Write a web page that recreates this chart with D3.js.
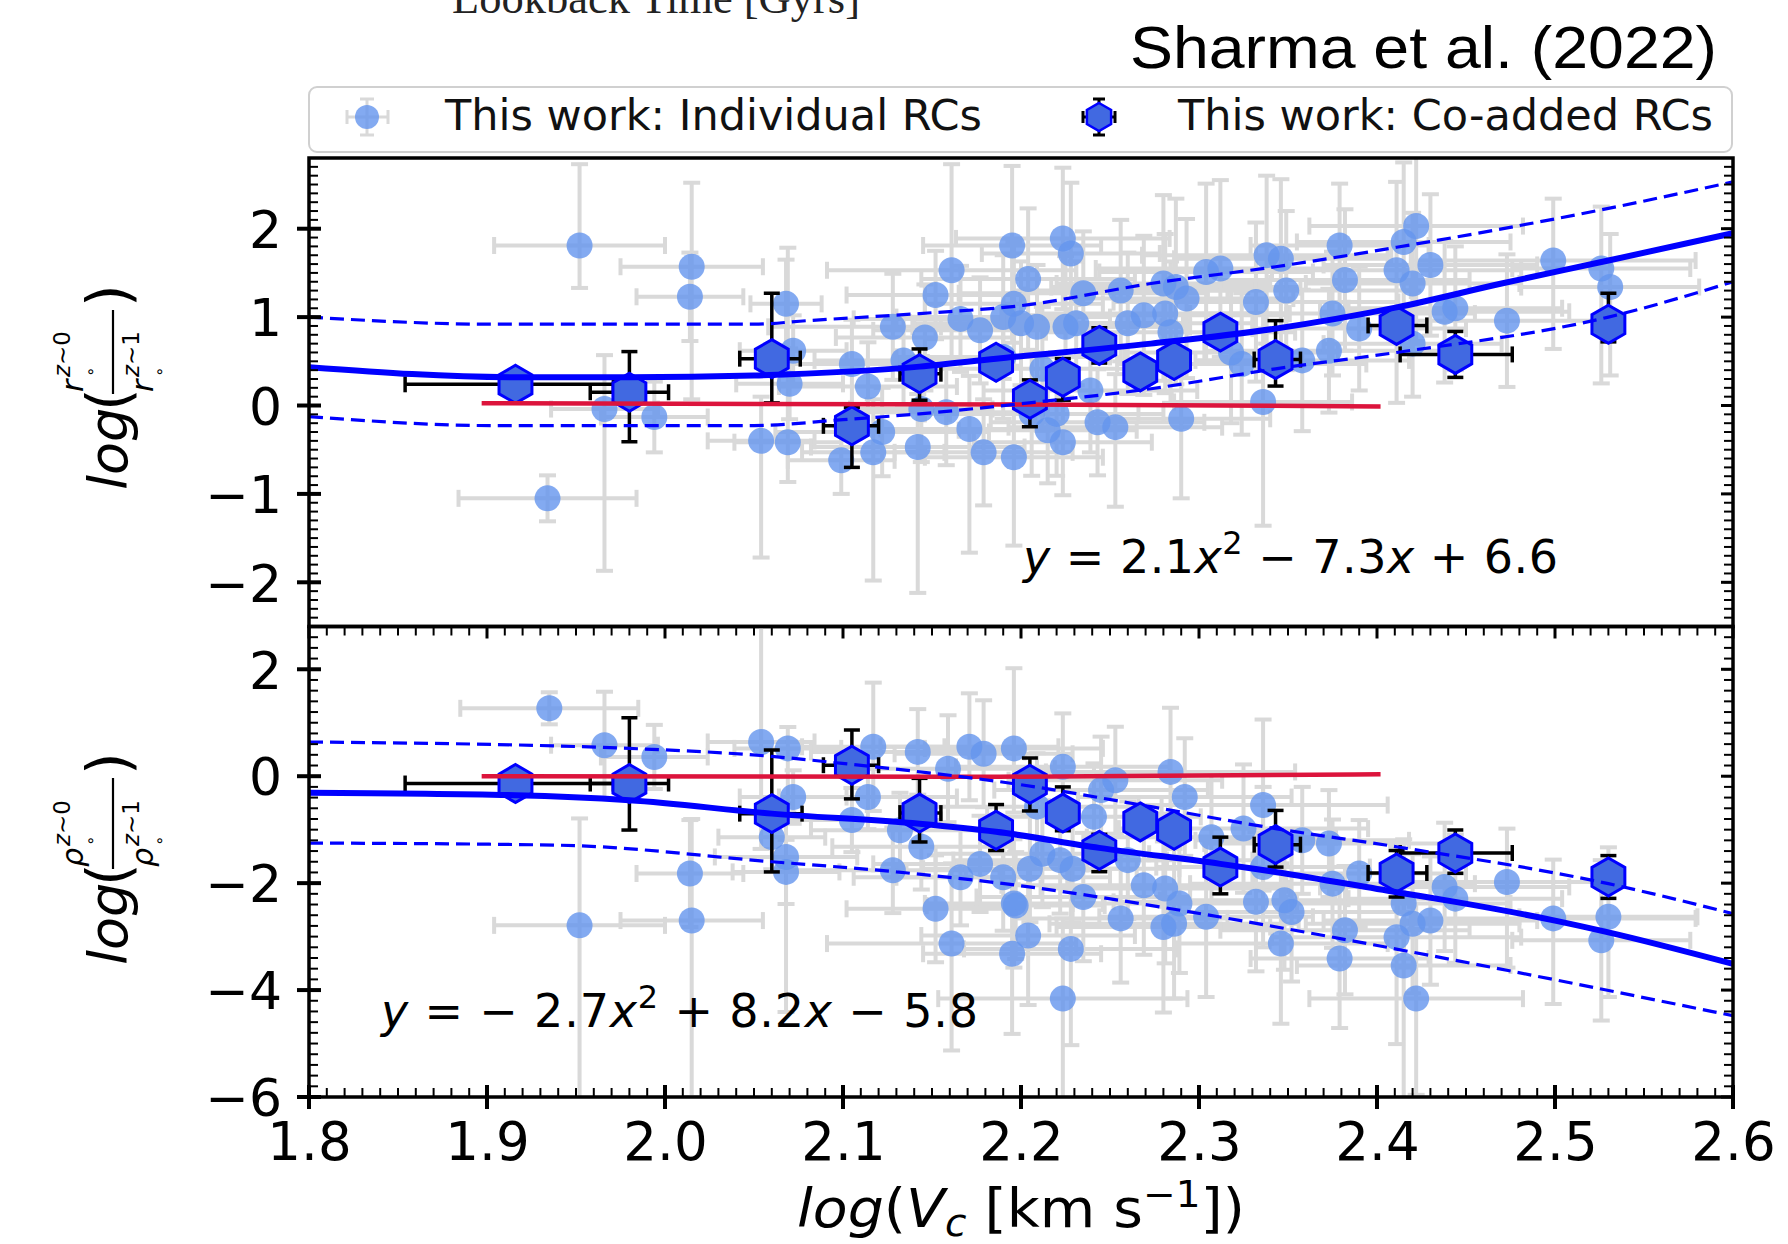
<!DOCTYPE html>
<html>
<head>
<meta charset="utf-8">
<script src="https://cdn.jsdelivr.net/npm/d3@7"></script>
<style>
  body { margin: 0; background: #fff; }
  svg { display: block; }
</style>
</head>
<body>
<svg id="chart" width="1788" height="1244"></svg>
<script>
// ---- data ----
var xTickValues = [1.8, 1.9, 2.0, 2.1, 2.2, 2.3, 2.4, 2.5, 2.6];
var topTickValues = [-2, -1, 0, 1, 2];
var bottomTickValues = [-6, -4, -2, 0, 2];

// individual RCs: [logVc, value, xErr, yErrLow, yErrHigh]
var individualTop = [
  [1.952, 1.81, 0.048, 0.48, 0.92], [1.934, -1.05, 0.05, 0.26, 0.26], [2.015, 1.57, 0.04, 1.5, 0.95],
  [2.014, 1.23, 0.03, 0.5, 0.5], [1.966, -0.04, 0.03, 1.83, 0.61], [1.994, -0.13, 0.03, 0.4, 0.4],
  [2.054, -0.40, 0.03, 1.32, 0.5], [2.069, -0.415, 0.03, 0.45, 2.2], [2.068, 1.15, 0.02, 0.5, 0.5],
  [2.072, 0.62, 0.03, 0.4, 0.4], [2.070, 0.245, 0.03, 0.4, 0.4], [2.105, 0.47, 0.05, 0.5, 0.5],
  [2.114, 0.215, 0.05, 0.5, 0.5], [2.099, -0.62, 0.03, 0.38, 0.38], [2.117, -0.53, 0.04, 1.45, 0.6],
  [2.122, -0.30, 0.06, 0.5, 0.5], [2.128, 0.89, 0.07, 0.6, 0.6], [2.134, 0.51, 0.05, 0.5, 0.5],
  [2.142, -0.47, 0.06, 1.65, 0.6], [2.146, 0.77, 0.05, 0.6, 0.6], [2.152, 1.25, 0.05, 0.5, 0.5],
  [2.161, 1.53, 0.07, 1.0, 1.2], [2.144, -0.04, 0.04, 0.6, 0.6], [2.158, -0.075, 0.05, 0.6, 0.6],
  [2.166, 0.98, 0.06, 0.6, 0.6], [2.171, -0.265, 0.05, 1.4, 0.6], [2.177, 0.85, 0.06, 0.6, 0.6],
  [2.179, -0.53, 0.05, 0.6, 0.6], [2.195, 1.81, 0.05, 1.1, 0.9], [2.204, 1.43, 0.06, 0.8, 0.8],
  [2.196, 1.15, 0.05, 0.7, 0.7], [2.19, 1.0, 0.06, 0.7, 0.7], [2.196, -0.585, 0.05, 1.0, 0.6],
  [2.209, 0.89, 0.07, 0.7, 0.7], [2.212, 0.415, 0.06, 0.7, 0.7], [2.206, -0.095, 0.06, 0.7, 0.7],
  [2.2235, 1.89, 0.06, 0.8, 0.8], [2.228, 1.72, 0.05, 0.8, 0.8], [2.235, 1.27, 0.07, 0.7, 0.7],
  [2.256, 1.30, 0.06, 0.8, 0.8], [2.225, 0.89, 0.07, 0.8, 0.8], [2.231, 0.93, 0.06, 0.7, 0.7],
  [2.26, 0.93, 0.07, 0.8, 0.8], [2.269, 1.02, 0.08, 0.9, 0.9], [2.28, 1.38, 0.06, 1.1, 1.0],
  [2.287, 1.34, 0.07, 1.1, 1.0], [2.293, 1.21, 0.06, 0.9, 0.9], [2.281, 1.04, 0.07, 0.9, 0.9],
  [2.284, 0.83, 0.07, 0.8, 0.8], [2.304, 1.51, 0.06, 1.0, 1.0], [2.312, 1.55, 0.07, 1.0, 1.0],
  [2.332, 1.17, 0.08, 0.9, 0.9], [2.338, 1.70, 0.07, 1.0, 0.9], [2.346, 1.66, 0.06, 1.0, 0.9],
  [2.349, 1.30, 0.07, 0.9, 0.9], [2.358, 0.51, 0.06, 0.8, 0.8], [2.373, 0.62, 0.07, 0.7, 0.7],
  [2.375, 1.04, 0.08, 0.7, 0.7], [2.379, 1.81, 0.05, 0.9, 0.7], [2.382, 1.42, 0.07, 0.8, 0.8],
  [2.39, 0.87, 0.06, 0.7, 0.7], [2.336, 0.04, 0.05, 1.4, 1.0], [2.324, 0.47, 0.07, 0.8, 0.8],
  [2.318, 0.60, 0.06, 0.8, 0.8], [2.411, 1.53, 0.07, 1.5, 1.0], [2.415, 1.85, 0.06, 1.2, 0.9],
  [2.422, 2.03, 0.06, 1.3, 0.8], [2.42, 1.38, 0.06, 0.8, 0.8], [2.43, 1.59, 0.06, 0.8, 0.8],
  [2.438, 1.06, 0.07, 0.8, 0.8], [2.444, 1.10, 0.06, 0.7, 0.7], [2.42, 0.70, 0.05, 0.6, 0.6],
  [2.473, 0.96, 0.06, 0.75, 0.75], [2.499, 1.64, 0.08, 1.0, 0.7], [2.526, 1.55, 0.05, 1.3, 0.7],
  [2.531, 1.34, 0.05, 1.0, 0.6], [2.215, -0.28, 0.05, 0.6, 0.6], [2.2235, -0.415, 0.05, 0.6, 0.6],
  [2.243, -0.19, 0.06, 0.6, 0.6], [2.253, -0.245, 0.06, 0.9, 0.6], [2.29, -0.15, 0.05, 0.9, 0.6],
  [2.239, 0.17, 0.06, 0.7, 0.7], [2.22, -0.095, 0.06, 0.7, 0.7], [2.2, 0.93, 0.06, 0.7, 0.7],
  [2.19, 0.55, 0.06, 0.7, 0.7]
];

var individualBottom = [
  [1.935, 1.27, 0.05, 0.3, 0.3], [1.952, -2.79, 0.048, 3.3, 2.0], [1.966, 0.58, 0.03, 1.0, 1.0],
  [1.994, 0.36, 0.03, 0.6, 0.6], [2.014, -1.82, 0.03, 1.0, 1.0], [2.015, -2.70, 0.04, 3.3, 1.9],
  [2.054, 0.64, 0.03, 2.0, 2.2], [2.069, 0.52, 0.03, 1.2, 0.4], [2.072, -0.39, 0.03, 0.5, 0.5],
  [2.06, -1.14, 0.03, 0.6, 0.6], [2.068, -1.51, 0.04, 2.9, 1.0], [2.068, -1.79, 0.03, 0.6, 0.6],
  [2.105, -0.82, 0.05, 0.6, 0.6], [2.114, -0.39, 0.05, 0.6, 0.6], [2.117, 0.55, 0.04, 1.2, 1.2],
  [2.128, -1.76, 0.06, 0.8, 0.8], [2.132, -1.01, 0.05, 0.7, 0.7], [2.142, 0.455, 0.06, 0.8, 0.8],
  [2.144, -1.32, 0.05, 0.8, 0.8], [2.152, -2.48, 0.05, 1.0, 1.0], [2.159, 0.14, 0.06, 1.0, 1.0],
  [2.161, -3.13, 0.07, 2.0, 1.5], [2.166, -1.89, 0.06, 0.9, 0.9], [2.171, 0.55, 0.05, 1.0, 1.0],
  [2.177, -1.64, 0.06, 0.9, 0.9], [2.179, 0.42, 0.05, 1.0, 1.0], [2.19, -1.89, 0.06, 1.0, 1.0],
  [2.196, -2.38, 0.05, 1.2, 1.2], [2.196, 0.52, 0.05, 1.2, 1.5], [2.195, -3.32, 0.05, 1.5, 1.3],
  [2.204, -2.98, 0.06, 1.3, 1.3], [2.205, -1.73, 0.06, 1.0, 1.0], [2.209, -0.57, 0.07, 1.0, 1.0],
  [2.2235, 0.175, 0.06, 1.0, 1.0], [2.253, -0.075, 0.06, 1.0, 1.0], [2.284, 0.08, 0.07, 1.2, 1.2],
  [2.197, -2.42, 0.05, 1.0, 1.0], [2.228, -3.23, 0.06, 1.8, 1.5], [2.2235, -4.16, 0.07, 2.0, 1.5],
  [2.235, -2.26, 0.06, 1.2, 1.2], [2.222, -1.57, 0.06, 1.0, 1.0], [2.229, -1.73, 0.06, 1.0, 1.0],
  [2.241, -0.76, 0.06, 1.0, 1.0], [2.245, -0.26, 0.06, 1.0, 1.0], [2.256, -2.66, 0.06, 1.2, 1.2],
  [2.26, -1.57, 0.07, 1.1, 1.1], [2.269, -2.04, 0.08, 1.3, 1.3], [2.28, -2.82, 0.06, 1.6, 1.6],
  [2.281, -2.10, 0.07, 1.4, 1.4], [2.286, -2.76, 0.07, 1.4, 1.4], [2.289, -2.38, 0.06, 1.3, 1.3],
  [2.292, -0.39, 0.06, 1.1, 1.1], [2.304, -2.63, 0.06, 1.5, 1.5], [2.307, -1.14, 0.07, 1.2, 1.2],
  [2.325, -0.98, 0.07, 1.2, 1.2], [2.332, -2.35, 0.08, 1.3, 1.3], [2.336, -0.54, 0.07, 1.6, 1.6],
  [2.336, -1.70, 0.06, 1.5, 1.5], [2.346, -3.13, 0.06, 1.5, 1.5], [2.348, -2.32, 0.07, 1.3, 1.3],
  [2.352, -2.54, 0.07, 1.3, 1.3], [2.358, -1.20, 0.06, 1.0, 1.0], [2.373, -1.26, 0.07, 1.0, 1.0],
  [2.375, -2.01, 0.08, 1.2, 1.2], [2.382, -2.88, 0.07, 1.2, 1.2], [2.379, -3.41, 0.05, 1.3, 1.3],
  [2.39, -1.82, 0.06, 1.0, 1.0], [2.411, -3.01, 0.07, 2.0, 1.7], [2.415, -3.54, 0.06, 2.5, 1.3],
  [2.422, -4.16, 0.06, 1.8, 1.3], [2.415, -2.38, 0.06, 1.2, 1.2], [2.42, -2.76, 0.06, 1.3, 1.3],
  [2.43, -2.70, 0.06, 1.2, 1.2], [2.438, -2.07, 0.07, 1.2, 1.2], [2.444, -2.29, 0.06, 1.2, 1.2],
  [2.473, -1.98, 0.06, 1.6, 1.0], [2.499, -2.66, 0.08, 1.6, 1.1], [2.53, -2.63, 0.05, 1.5, 1.3],
  [2.526, -3.07, 0.05, 1.5, 1.5], [2.212, -1.45, 0.06, 1.0, 1.0]
];

// co-added RCs: [logVc, value, xErrLow, xErrHigh, yErrLow, yErrHigh]
var coaddedTop = [
  [1.916, 0.24, 0.062, 0.055, 0.15, 0.15], [1.980, 0.15, 0.022, 0.022, 0.56, 0.46],
  [2.060, 0.53, 0.018, 0.016, 0.5, 0.74], [2.105, -0.23, 0.016, 0.015, 0.47, 0.21],
  [2.143, 0.36, 0.011, 0.012, 0.3, 0.28], [2.186, 0.49, 0.008, 0.008, 0.1, 0.1],
  [2.205, 0.07, 0.008, 0.008, 0.31, 0.22], [2.2235, 0.32, 0.008, 0.008, 0.26, 0.21],
  [2.244, 0.68, 0.008, 0.008, 0.2, 0.2], [2.267, 0.38, 0.006, 0.006, 0.1, 0.1],
  [2.286, 0.51, 0.006, 0.006, 0.1, 0.1], [2.312, 0.83, 0.008, 0.008, 0.12, 0.12],
  [2.343, 0.52, 0.012, 0.014, 0.3, 0.44], [2.411, 0.906, 0.016, 0.017, 0.12, 0.12],
  [2.444, 0.578, 0.031, 0.032, 0.26, 0.26], [2.530, 0.92, 0.005, 0.005, 0.2, 0.35]
];
var coaddedBottom = [
  [1.916, -0.137, 0.062, 0.055, 0.15, 0.15], [1.980, -0.137, 0.022, 0.022, 0.87, 1.23],
  [2.060, -0.70, 0.018, 0.017, 1.09, 1.19], [2.105, 0.206, 0.016, 0.015, 0.63, 0.66],
  [2.143, -0.69, 0.011, 0.012, 0.54, 0.65], [2.186, -1.01, 0.008, 0.008, 0.38, 0.48],
  [2.205, -0.15, 0.008, 0.008, 0.5, 0.49], [2.2235, -0.69, 0.008, 0.008, 0.33, 0.49],
  [2.244, -1.386, 0.008, 0.008, 0.4, 0.3], [2.267, -0.855, 0.006, 0.006, 0.15, 0.15],
  [2.286, -1.01, 0.006, 0.006, 0.15, 0.15], [2.312, -1.70, 0.008, 0.008, 0.5, 0.56],
  [2.343, -1.28, 0.012, 0.014, 0.42, 0.64], [2.411, -1.81, 0.016, 0.017, 0.45, 0.42],
  [2.444, -1.436, 0.031, 0.032, 0.38, 0.43], [2.530, -1.885, 0.005, 0.005, 0.4, 0.4]
];

// fitted curves, read as [logVc, value]
var fitTop = [[1.8, 0.434], [1.916, 0.32], [1.98, 0.32], [2.05, 0.34], [2.143, 0.44], [2.186, 0.53],
  [2.273, 0.70], [2.343, 0.87], [2.411, 1.11], [2.47, 1.38], [2.53, 1.64], [2.6, 1.95]];
var upperTop = [[1.8, 1.0], [1.903, 0.92], [2.05, 0.92], [2.08, 0.96], [2.143, 1.04], [2.2, 1.13],
  [2.273, 1.38], [2.343, 1.57], [2.411, 1.79], [2.53, 2.23], [2.6, 2.53]];
var lowerTop = [[1.8, -0.125], [1.903, -0.227], [2.05, -0.227], [2.1, -0.16], [2.143, -0.094], [2.2, 0.02],
  [2.273, 0.19], [2.343, 0.415], [2.411, 0.60], [2.53, 1.0], [2.6, 1.40]];
var refTop = [[1.897, 0.026], [2.2, 0.011], [2.402, -0.011]];

var fitBottom = [[1.8, -0.31], [1.916, -0.356], [1.98, -0.45], [2.06, -0.70], [2.143, -0.89], [2.186, -1.04],
  [2.244, -1.34], [2.312, -1.64], [2.343, -1.79], [2.411, -2.17], [2.444, -2.35], [2.5, -2.70], [2.53, -2.92], [2.6, -3.51]];
var upperBottom = [[1.8, 0.64], [1.98, 0.52], [2.06, 0.37], [2.105, 0.22], [2.198, -0.15], [2.273, -0.57],
  [2.343, -0.98], [2.411, -1.32], [2.53, -2.01], [2.6, -2.57]];
var lowerBottom = [[1.8, -1.25], [1.94, -1.29], [2.06, -1.60], [2.13, -1.79], [2.2, -2.05], [2.29, -2.51],
  [2.37, -2.98], [2.445, -3.45], [2.6, -4.48]];
var refBottom = [[1.897, 0.0], [2.188, -0.01], [2.402, 0.037]];

// ---- drawing ----
var svg = d3.select("#chart");
var font = "'DejaVu Sans', sans-serif";
var left = 309, right = 1733, topY = 158, midY = 626.5, botY = 1097;

var x = d3.scaleLinear().domain([1.8, 2.6]).range([left, right]);
var yTop = d3.scaleLinear().domain([-2.5, 2.8]).range([midY, topY]);
var yBot = d3.scaleLinear().domain([-6, 2.8]).range([botY, midY]);

function hexPath(cx, cy, r) {
  var p = d3.path();
  for (var i = 0; i < 6; i++) {
    var a = -Math.PI / 2 + i * Math.PI / 3;
    if (i === 0) p.moveTo(cx + r * Math.cos(a), cy + r * Math.sin(a));
    else p.lineTo(cx + r * Math.cos(a), cy + r * Math.sin(a));
  }
  p.closePath();
  return p.toString();
}

function errorBar(g, x1, y1, x2, y2, cap, color, w) {
  g.append("line").attr("x1", x1).attr("y1", y1).attr("x2", x2).attr("y2", y2)
    .attr("stroke", color).attr("stroke-width", w);
  if (x1 === x2) {
    [y1, y2].forEach(function (yy) {
      g.append("line").attr("x1", x1 - cap).attr("x2", x1 + cap).attr("y1", yy).attr("y2", yy)
        .attr("stroke", color).attr("stroke-width", w);
    });
  } else {
    [x1, x2].forEach(function (xx) {
      g.append("line").attr("x1", xx).attr("x2", xx).attr("y1", y1 - cap).attr("y2", y1 + cap)
        .attr("stroke", color).attr("stroke-width", w);
    });
  }
}

function drawPanel(id, y, y0, y1, indiv, coadd, fit, upper, lower, ref) {
  svg.append("clipPath").attr("id", id).append("rect")
    .attr("x", left).attr("y", y1).attr("width", right - left).attr("height", y0 - y1);
  var g = svg.append("g").attr("clip-path", "url(#" + id + ")");

  var grey = g.append("g").attr("opacity", 0.85);
  indiv.forEach(function (d) {
    errorBar(grey, x(d[0]), y(d[1] - d[3]), x(d[0]), y(d[1] + d[4]), 8.5, "#d3d3d3", 4);
    errorBar(grey, x(d[0] - d[2]), y(d[1]), x(d[0] + d[2]), y(d[1]), 8.5, "#d3d3d3", 4);
  });
  g.append("g").selectAll("circle").data(indiv).enter().append("circle")
    .attr("cx", function (d) { return x(d[0]); })
    .attr("cy", function (d) { return y(d[1]); })
    .attr("r", 13).attr("fill", "#6495ED").attr("opacity", 0.8);

  var blk = g.append("g");
  coadd.forEach(function (d) {
    errorBar(blk, x(d[0]), y(d[1] - d[4]), x(d[0]), y(d[1] + d[5]), 8, "#000", 3.5);
    errorBar(blk, x(d[0] - d[2]), y(d[1]), x(d[0] + d[3]), y(d[1]), 8, "#000", 3.5);
  });
  g.append("g").selectAll("path").data(coadd).enter().append("path")
    .attr("d", function (d) { return hexPath(x(d[0]), y(d[1]), 19); })
    .attr("fill", "#4169E1").attr("stroke", "#0000FF").attr("stroke-width", 3);

  var line = d3.line().x(function (d) { return x(d[0]); }).y(function (d) { return y(d[1]); })
    .curve(d3.curveMonotoneX);
  g.append("path").attr("d", line(ref)).attr("fill", "none").attr("stroke", "#DC143C").attr("stroke-width", 4.5);
  [upper, lower].forEach(function (s) {
    g.append("path").attr("d", line(s)).attr("fill", "none").attr("stroke", "#0000FF")
      .attr("stroke-width", 3.2).attr("stroke-dasharray", "14,7");
  });
  g.append("path").attr("d", line(fit)).attr("fill", "none").attr("stroke", "#0000FF").attr("stroke-width", 6);

  // frame
  svg.append("rect").attr("x", left).attr("y", y1).attr("width", right - left).attr("height", y0 - y1)
    .attr("fill", "none").attr("stroke", "#000").attr("stroke-width", 3.5);
}

drawPanel("clipTop", yTop, midY, topY, individualTop, coaddedTop, fitTop, upperTop, lowerTop, refTop);
drawPanel("clipBot", yBot, botY, midY, individualBottom, coaddedBottom, fitBottom, upperBottom, lowerBottom, refBottom);

// ---- ticks ----
var ticks = svg.append("g").attr("stroke", "#000");
function yTicks(y, majors, minorStep, lo, hi) {
  var n = Math.round((hi - lo) / minorStep);
  for (var i = 0; i <= n; i++) {
    var v = lo + i * minorStep, py = y(v);
    if (py < Math.min(y.range()[0], y.range()[1]) - 0.5 || py > Math.max(y.range()[0], y.range()[1]) + 0.5) continue;
    ticks.append("line").attr("x1", left).attr("x2", left + 9).attr("y1", py).attr("y2", py).attr("stroke-width", 2);
    ticks.append("line").attr("x1", right).attr("x2", right - 9).attr("y1", py).attr("y2", py).attr("stroke-width", 2);
  }
  majors.forEach(function (v) {
    ticks.append("line").attr("x1", left - 12).attr("x2", left + 12).attr("y1", y(v)).attr("y2", y(v)).attr("stroke-width", 4);
    ticks.append("line").attr("x1", right).attr("x2", right - 12).attr("y1", y(v)).attr("y2", y(v)).attr("stroke-width", 3);
  });
}
yTicks(yTop, topTickValues, 0.1, -2.5, 2.8);
yTicks(yBot, bottomTickValues, 0.2, -6, 2.8);

for (var i = 0; i <= 80; i++) {
  var px = x(1.8 + i * 0.01);
  ticks.append("line").attr("x1", px).attr("x2", px).attr("y1", botY).attr("y2", botY - 9).attr("stroke-width", 2);
  ticks.append("line").attr("x1", px).attr("x2", px).attr("y1", midY).attr("y2", midY + 9).attr("stroke-width", 2);
}
xTickValues.forEach(function (v) {
  ticks.append("line").attr("x1", x(v)).attr("x2", x(v)).attr("y1", botY - 12).attr("y2", botY + 12).attr("stroke-width", 4);
  ticks.append("line").attr("x1", x(v)).attr("x2", x(v)).attr("y1", midY).attr("y2", midY + 12).attr("stroke-width", 3);
});

// tick labels via d3 axes
var axisY1 = d3.axisLeft(yTop).tickValues(topTickValues).tickSize(0).tickPadding(0)
  .tickFormat(function (d) { return d < 0 ? "\u2212" + Math.abs(d) : d; });
var axisY2 = d3.axisLeft(yBot).tickValues(bottomTickValues).tickSize(0).tickPadding(0)
  .tickFormat(function (d) { return d < 0 ? "\u2212" + Math.abs(d) : d; });
var axisX = d3.axisBottom(x).tickValues(xTickValues).tickSize(0).tickPadding(0).tickFormat(d3.format(".1f"));
[[axisY1, "translate(282,0)"], [axisY2, "translate(282,0)"]].forEach(function (a) {
  var ga = svg.append("g").attr("transform", a[1]).call(a[0]);
  ga.select(".domain").remove();
  ga.selectAll("text").attr("font-family", font).attr("font-size", 52).attr("fill", "#000").attr("x", 0).attr("dy", "0.36em");
});
var gx = svg.append("g").attr("transform", "translate(0,1160)").call(axisX);
gx.select(".domain").remove();
gx.selectAll("text").attr("font-family", font).attr("font-size", 53).attr("fill", "#000").attr("y", 0).attr("dy", 0);

// ---- equations ----
function equation(xp, yp, parts, len) {
  var t = svg.append("text").attr("x", xp).attr("y", yp).attr("font-family", font)
    .attr("font-size", 46).attr("fill", "#000").attr("textLength", len).attr("lengthAdjust", "spacing");
  parts.forEach(function (p) {
    var s = t.append("tspan").text(p[0]);
    if (p[1] === "i") s.attr("font-style", "italic");
    if (p[1] === "sup") s.attr("font-size", 32).attr("dy", -19);
    if (p[1] === "back") s.attr("dy", 19);
  });
}
equation(1023, 573, [["y", "i"], [" = 2.1"], ["x", "i"], ["2", "sup"], [" \u2212 7.3", "back"], ["x", "i"], [" + 6.6"]], 535);
equation(381, 1027, [["y", "i"], [" =  \u2212 2.7"], ["x", "i"], ["2", "sup"], [" + 8.2", "back"], ["x", "i"], [" \u2212 5.8"]], 597);

// ---- x label ----
var xl = svg.append("text").attr("x", 797).attr("y", 1227)
  .attr("font-family", font).attr("font-size", 54).attr("fill", "#000")
  .attr("textLength", 448).attr("lengthAdjust", "spacingAndGlyphs");
xl.append("tspan").attr("font-style", "italic").text("log");
xl.append("tspan").text("(");
xl.append("tspan").attr("font-style", "italic").text("V");
xl.append("tspan").attr("font-style", "italic").attr("font-size", 37).attr("dy", 9).text("c");
xl.append("tspan").attr("dy", -9).text(" [km s");
xl.append("tspan").attr("font-size", 37).attr("dy", -20).text("\u22121");
xl.append("tspan").attr("dy", 20).text("])");

// ---- y labels ----
function yLabel(cx, cy, sym, barLen) {
  var g = svg.append("g").attr("transform", "translate(" + cx + "," + cy + ") rotate(-90)")
    .attr("font-family", font).attr("fill", "#000");
  g.append("text").attr("x", -97).attr("y", 0).attr("font-size", 54).attr("font-style", "italic").text("log");
  g.append("text").attr("x", -18).attr("y", 2).attr("font-size", 58).text("(");
  g.append("text").attr("x", barLen + 3).attr("y", 2).attr("font-size", 58).text(")");
  g.append("line").attr("x1", -1).attr("x2", barLen).attr("y1", -14).attr("y2", -14)
    .attr("stroke", "#000").attr("stroke-width", 2.2);
  [[-44, "z\u223c0", -57, -31], [26, "z\u223c1", 12, 38]].forEach(function (p) {
    g.append("text").attr("x", 1).attr("y", p[0]).attr("font-size", 30).attr("font-style", "italic").text(sym);
    var sup = g.append("text").attr("x", sym === "r" ? 16 : 22).attr("y", p[2]).attr("font-size", 23);
    sup.append("tspan").attr("font-style", "italic").text("z");
    sup.append("tspan").text(p[1].slice(1));
    g.append("text").attr("x", sym === "r" ? 16 : 22).attr("y", p[3]).attr("font-size", 16).text("\u2218");
  });
}
yLabel(127, 393, "r", 83);
yLabel(127, 868, "\u03c1", 90);

// ---- legend ----
var lg = svg.append("g");
lg.append("rect").attr("x", 309).attr("y", 87).attr("width", 1423).attr("height", 65).attr("rx", 8)
  .attr("fill", "#fff").attr("stroke", "#d0d0d0").attr("stroke-width", 2);
var lgGrey = lg.append("g").attr("opacity", 0.85);
errorBar(lgGrey, 367, 99, 367, 135, 7, "#d3d3d3", 3);
errorBar(lgGrey, 347, 117, 388, 117, 7, "#d3d3d3", 3);
lg.append("circle").attr("cx", 367).attr("cy", 117).attr("r", 12).attr("fill", "#6495ED").attr("opacity", 0.8);
errorBar(lg, 1099, 99, 1099, 135, 6, "#000", 3);
errorBar(lg, 1083, 117, 1115, 117, 6, "#000", 3);
lg.append("path").attr("d", hexPath(1099, 117, 14)).attr("fill", "#4169E1").attr("stroke", "#0000FF").attr("stroke-width", 2.5);
lg.append("text").attr("x", 445).attr("y", 130).attr("font-family", font).attr("font-size", 43).attr("fill", "#111")
  .text("This work: Individual RCs");
lg.append("text").attr("x", 1178).attr("y", 130).attr("font-family", font).attr("font-size", 43).attr("fill", "#111")
  .text("This work: Co-added RCs");

// ---- header texts ----
svg.append("text").attr("x", 1130).attr("y", 68).attr("font-family", "'Liberation Sans', Arial, sans-serif")
  .attr("font-size", 60).attr("fill", "#000").attr("textLength", 587).attr("lengthAdjust", "spacingAndGlyphs")
  .text("Sharma et al. (2022)");
svg.append("text").attr("x", 452).attr("y", 13).attr("font-family", "'Liberation Serif', serif")
  .attr("font-size", 44).attr("fill", "#222").attr("textLength", 408).attr("lengthAdjust", "spacingAndGlyphs")
  .text("Lookback Time [Gyrs]");
</script>
</body>
</html>
